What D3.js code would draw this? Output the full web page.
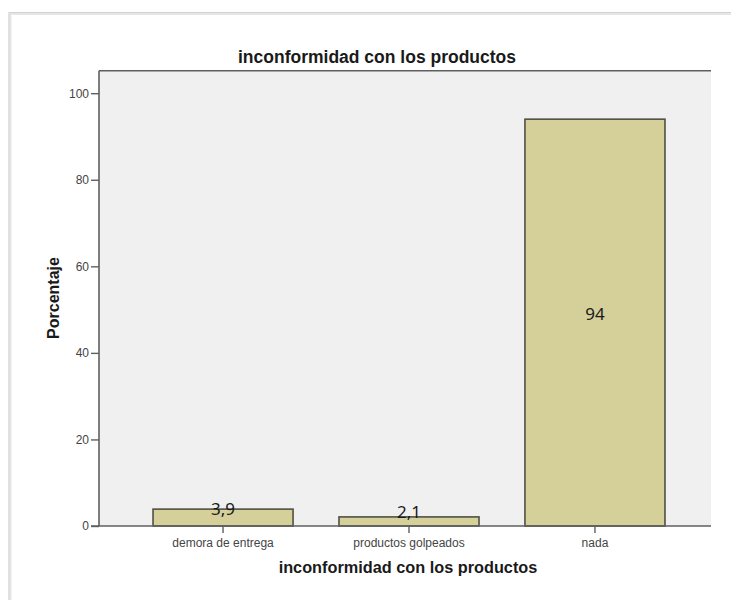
<!DOCTYPE html>
<html>
<head>
<meta charset="utf-8">
<script src="https://cdn.jsdelivr.net/npm/d3@7"></script>
<style>
  html, body { margin: 0; padding: 0; background: #ffffff; }
  svg { display: block; }
</style>
</head>
<body>
<svg id="chart" width="731" height="600"></svg>
<script>
// Categories and percentages
const categories = ["demora de entrega", "productos golpeados", "nada"];
const percentages = [3.9, 2.1, 94];
const valueLabels = ["3,9", "2,1", "94"];
const yTicks = [0, 20, 40, 60, 80, 100];

const chartTitle = "inconformidad con los productos";
const xTitle = "inconformidad con los productos";
const yTitle = "Porcentaje";

(function () {
  const svg = d3.select("#chart");
  const W = 731, H = 600;

  // Panel geometry
  const pLeft = 99, pRight = 711, pTop = 70.7, pBottom = 526;

  // Outer frame
  svg.append("path")
    .attr("d", `M10,${H} V13.5 H${W}`)
    .attr("fill", "none")
    .attr("stroke", "#e6e6e6")
    .attr("stroke-width", 3);
  svg.append("path")
    .attr("d", `M9,${H} V12.5 H${W}`)
    .attr("fill", "none")
    .attr("stroke", "#d2d2d2")
    .attr("stroke-width", 1);

  // Scales
  const x = d3.scaleBand()
    .domain(categories)
    .range([pLeft, pRight])
    .paddingInner(0.247)
    .paddingOuter(0.269)
    .align(0.54);

  const y = d3.scaleLinear()
    .domain([0, 105.2])
    .range([pBottom, pTop]);

  // Plot background
  svg.append("rect")
    .attr("x", pLeft).attr("y", pTop)
    .attr("width", pRight - pLeft).attr("height", pBottom - pTop)
    .attr("fill", "#f0f0f0");

  // Bars
  svg.append("g").selectAll("rect")
    .data(categories)
    .join("rect")
    .attr("x", d => x(d))
    .attr("y", (d, i) => y(percentages[i]))
    .attr("width", x.bandwidth())
    .attr("height", (d, i) => y(0) - y(percentages[i]))
    .attr("fill", "#d5d09a")
    .attr("stroke", "#505046")
    .attr("stroke-width", 1.6);

  // Value labels inside bars
  svg.append("g").selectAll("text")
    .data(categories)
    .join("text")
    .attr("x", d => x(d) + x.bandwidth() / 2)
    .attr("y", (d, i) => y(percentages[i] / 2) - 3)
    .attr("text-anchor", "middle")
    .attr("font-family", "'Noto Sans', 'DejaVu Sans', sans-serif")
    .attr("font-size", 17)
    .attr("fill", "#1a1a1a")
    .text((d, i) => valueLabels[i]);

  // Top border of panel
  svg.append("line")
    .attr("x1", pLeft).attr("x2", pRight)
    .attr("y1", pTop).attr("y2", pTop)
    .attr("stroke", "#5f5f5f").attr("stroke-width", 1.6);

  // Y axis
  const yAxis = svg.append("g")
    .attr("transform", `translate(${pLeft},0)`)
    .call(d3.axisLeft(y).tickValues(yTicks).tickSize(8).tickPadding(2).tickSizeOuter(0));
  yAxis.select(".domain").remove();
  yAxis.append("line")
    .attr("x1", 0).attr("x2", 0)
    .attr("y1", pTop).attr("y2", pBottom)
    .attr("stroke", "#5f5f5f").attr("stroke-width", 1.6);
  yAxis.selectAll(".tick line").attr("stroke", "#5f5f5f").attr("stroke-width", 1.4);
  yAxis.selectAll(".tick text")
    .attr("font-family", "'Liberation Sans', Arial, sans-serif")
    .attr("font-size", 12)
    .attr("fill", "#444444");

  // X axis
  const xAxis = svg.append("g")
    .attr("transform", `translate(0,${pBottom})`)
    .call(d3.axisBottom(x).tickSize(7).tickPadding(5).tickSizeOuter(0));
  xAxis.select(".domain").remove();
  xAxis.append("line")
    .attr("x1", pLeft - 8).attr("x2", pRight)
    .attr("y1", 0).attr("y2", 0)
    .attr("stroke", "#5f5f5f").attr("stroke-width", 1.6);
  xAxis.selectAll(".tick line").attr("stroke", "#5f5f5f").attr("stroke-width", 1.4);
  xAxis.selectAll(".tick text")
    .attr("font-family", "'Liberation Sans', Arial, sans-serif")
    .attr("font-size", 12)
    .attr("fill", "#444444");

  // Titles
  svg.append("text")
    .attr("x", 377).attr("y", 63)
    .attr("text-anchor", "middle")
    .attr("font-family", "'Liberation Sans', Arial, sans-serif")
    .attr("font-weight", "bold")
    .attr("font-size", 17.5)
    .attr("fill", "#1a1a1a")
    .text(chartTitle);

  svg.append("text")
    .attr("x", 408).attr("y", 573)
    .attr("text-anchor", "middle")
    .attr("font-family", "'Liberation Sans', Arial, sans-serif")
    .attr("font-weight", "bold")
    .attr("font-size", 16.3)
    .attr("fill", "#1a1a1a")
    .text(xTitle);

  svg.append("text")
    .attr("transform", "translate(59,298) rotate(-90)")
    .attr("text-anchor", "middle")
    .attr("font-family", "'Liberation Sans', Arial, sans-serif")
    .attr("font-weight", "bold")
    .attr("font-size", 16)
    .attr("fill", "#1a1a1a")
    .text(yTitle);
})();
</script>
</body>
</html>
